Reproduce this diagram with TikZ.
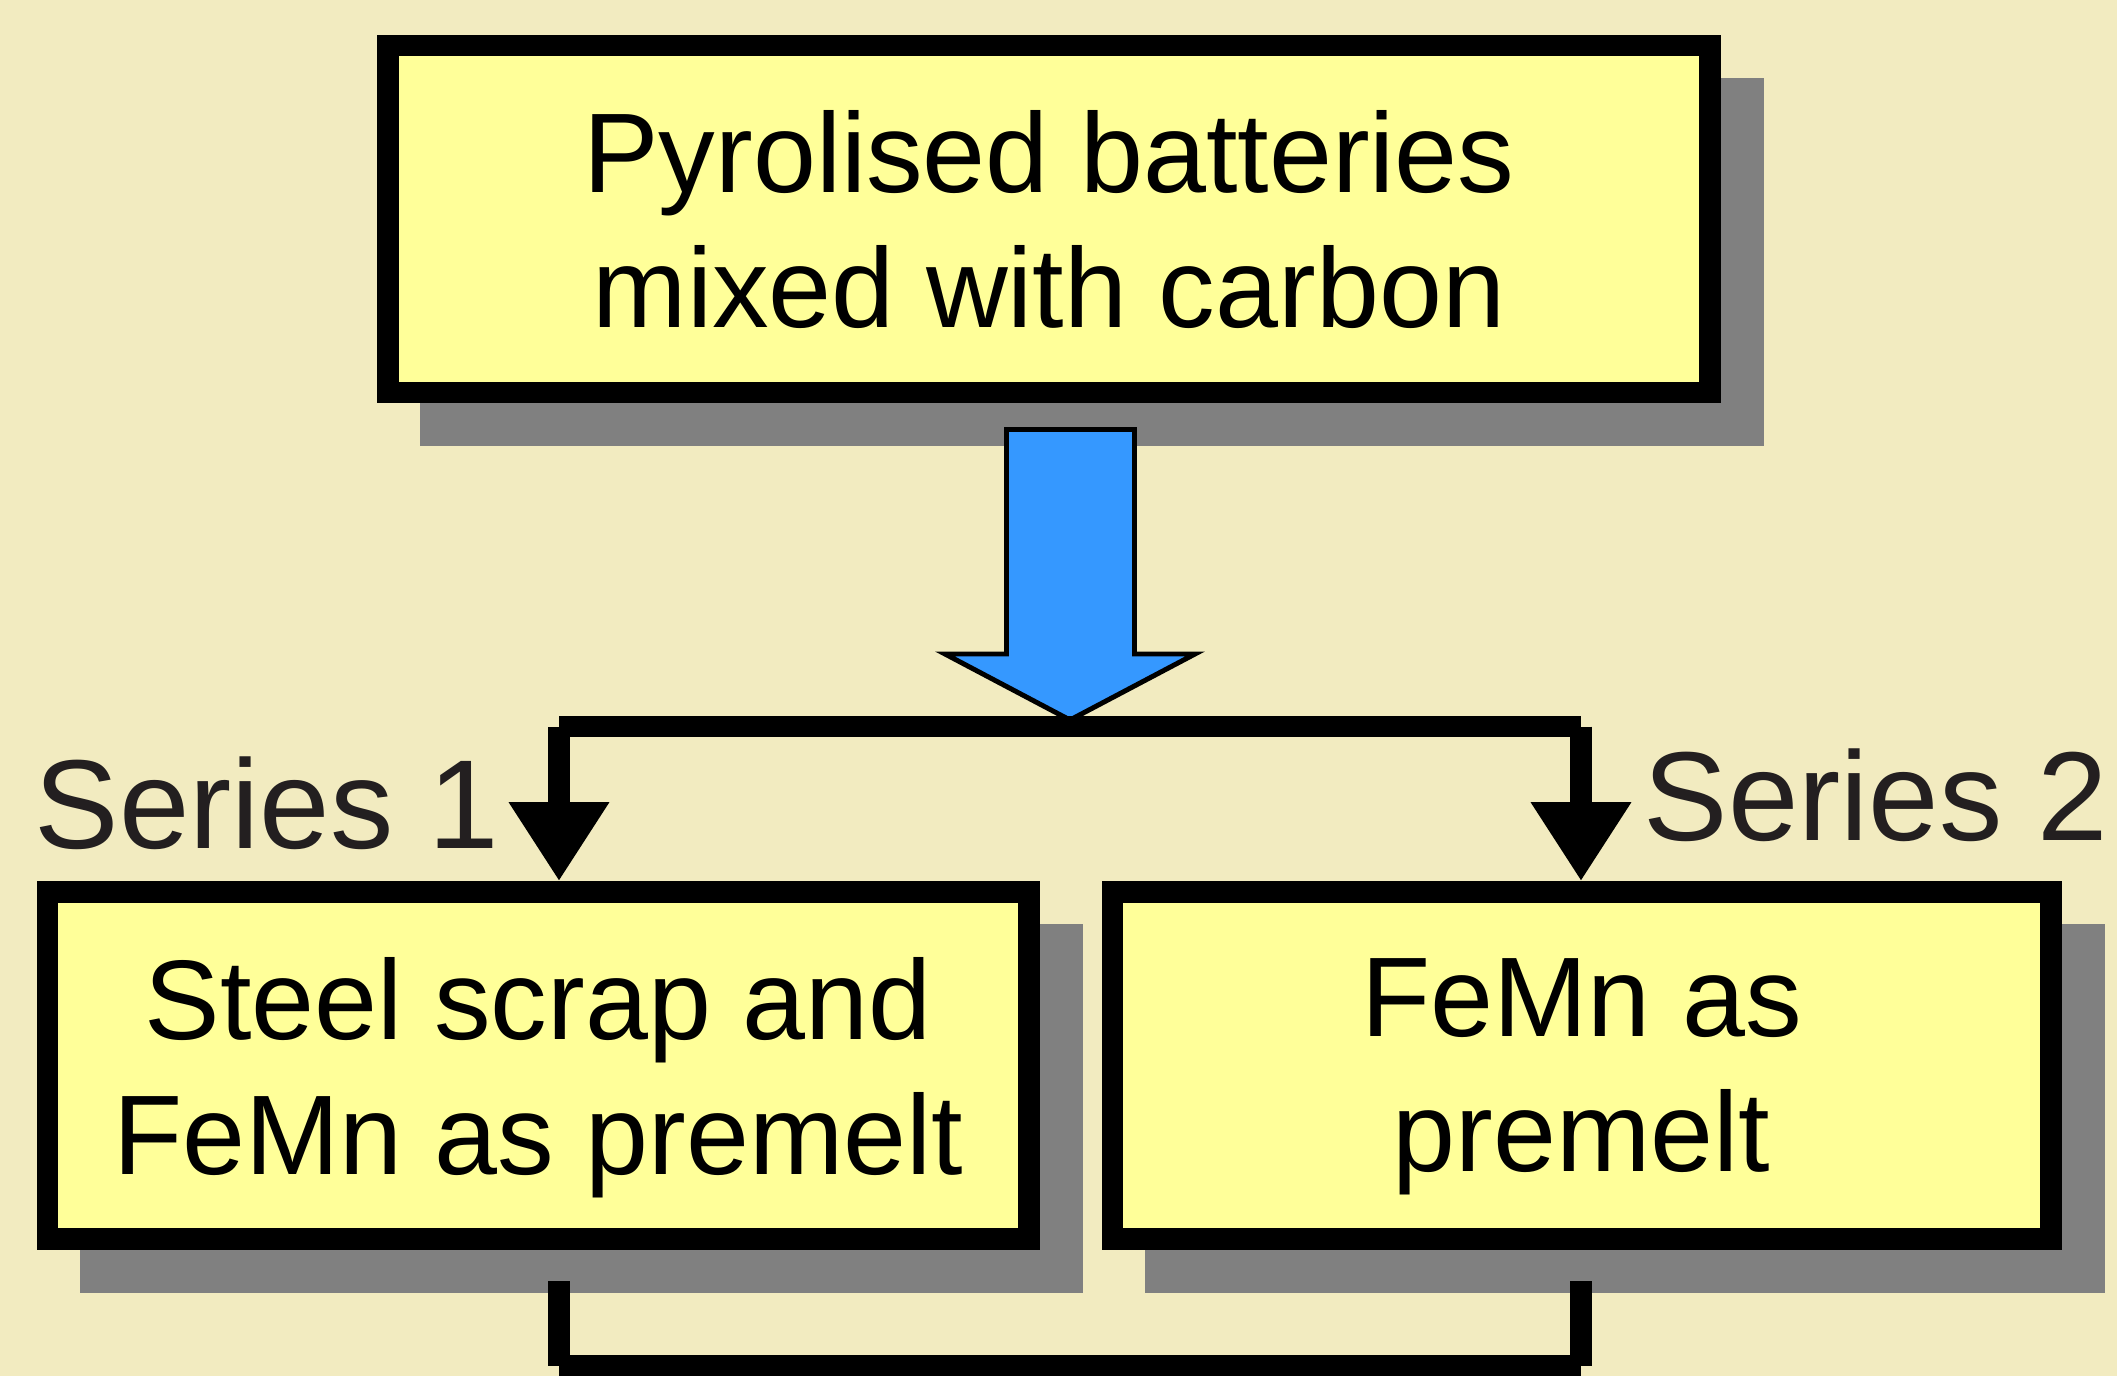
\documentclass[tikz,border=0pt]{standalone}
\usepackage{fontspec}
\setmainfont{Liberation Sans}
\usetikzlibrary{arrows.meta,backgrounds,calc}

\definecolor{bgcol}{RGB}{242,235,192}
\definecolor{boxfill}{RGB}{255,255,153}
\definecolor{shadowgray}{RGB}{128,128,128}
\definecolor{arrowblue}{RGB}{53,152,255}
\definecolor{labelcol}{RGB}{35,31,32}

\tikzset{
  stage/.style={draw=black, fill=boxfill, line width=6.1pt, inner sep=0pt,
    minimum height=3.47cm, align=center, text depth=0pt,
    font=\fontsize{32.2}{38.4}\selectfont},
  conn/.style={line width=6pt},
  serieslabel/.style={anchor=base west, inner sep=0pt, text=labelcol,
    font=\fontsize{36}{42}\selectfont},
}

\begin{document}
\begin{tikzpicture}[x=0.01cm,y=-0.01cm,>={Triangle[length=0.79cm,width=0.95cm]}]
  \useasboundingbox (0,0) rectangle (2117,1376);
  % boxes
  \node[stage,minimum width=13.215cm] (feed) at (1049,219) {Pyrolised batteries\\mixed with carbon};
  \node[stage,minimum width=9.805cm] (ser1) at (538.3,1065.5) {Steel scrap and\\FeMn as premelt};
  \node[stage,minimum width=9.38cm] (ser2) at (1581.5,1065.5) {FeMn as\\premelt};
  % background and shadows
  \begin{scope}[on background layer]
    \fill[bgcol] (0,0) rectangle (2117,1376);
    \foreach \b in {feed,ser1,ser2}
      \fill[shadowgray] ($(\b.north west)+(43,43)$) rectangle ($(\b.south east)+(43,43)$);
  \end{scope}
  % blue arrow
  \draw[fill=arrowblue,line width=1.4pt] (1006.5,429.5) -- (1006.5,654) -- (945,654)
    -- (1070,720) -- (1195,654) -- (1134.5,654) -- (1134.5,429.5) -- cycle;
  % split
  \coordinate (jl) at (559,726.5);
  \coordinate (jr) at (1581,726.5);
  \draw[conn] (jl) -- (jr);
  \draw[conn,->] (jl) -- (jl |- ser1.north);
  \draw[conn,->] (jr) -- (jr |- ser2.north);
  % join
  \coordinate (dl) at (559,1281);
  \coordinate (dr) at (1581,1281);
  \coordinate (el) at (559,1366);
  \coordinate (er) at (1581,1366);
  \draw[conn] (dl) -- (el);
  \draw[conn] (dr) -- (er);
  \draw[conn] (el) -- (er);
  % labels
  \node[serieslabel] (s1) at (34,848) {Series 1};
  \node[serieslabel] (s2) at (1643,840) {Series 2};
\end{tikzpicture}
\end{document}
